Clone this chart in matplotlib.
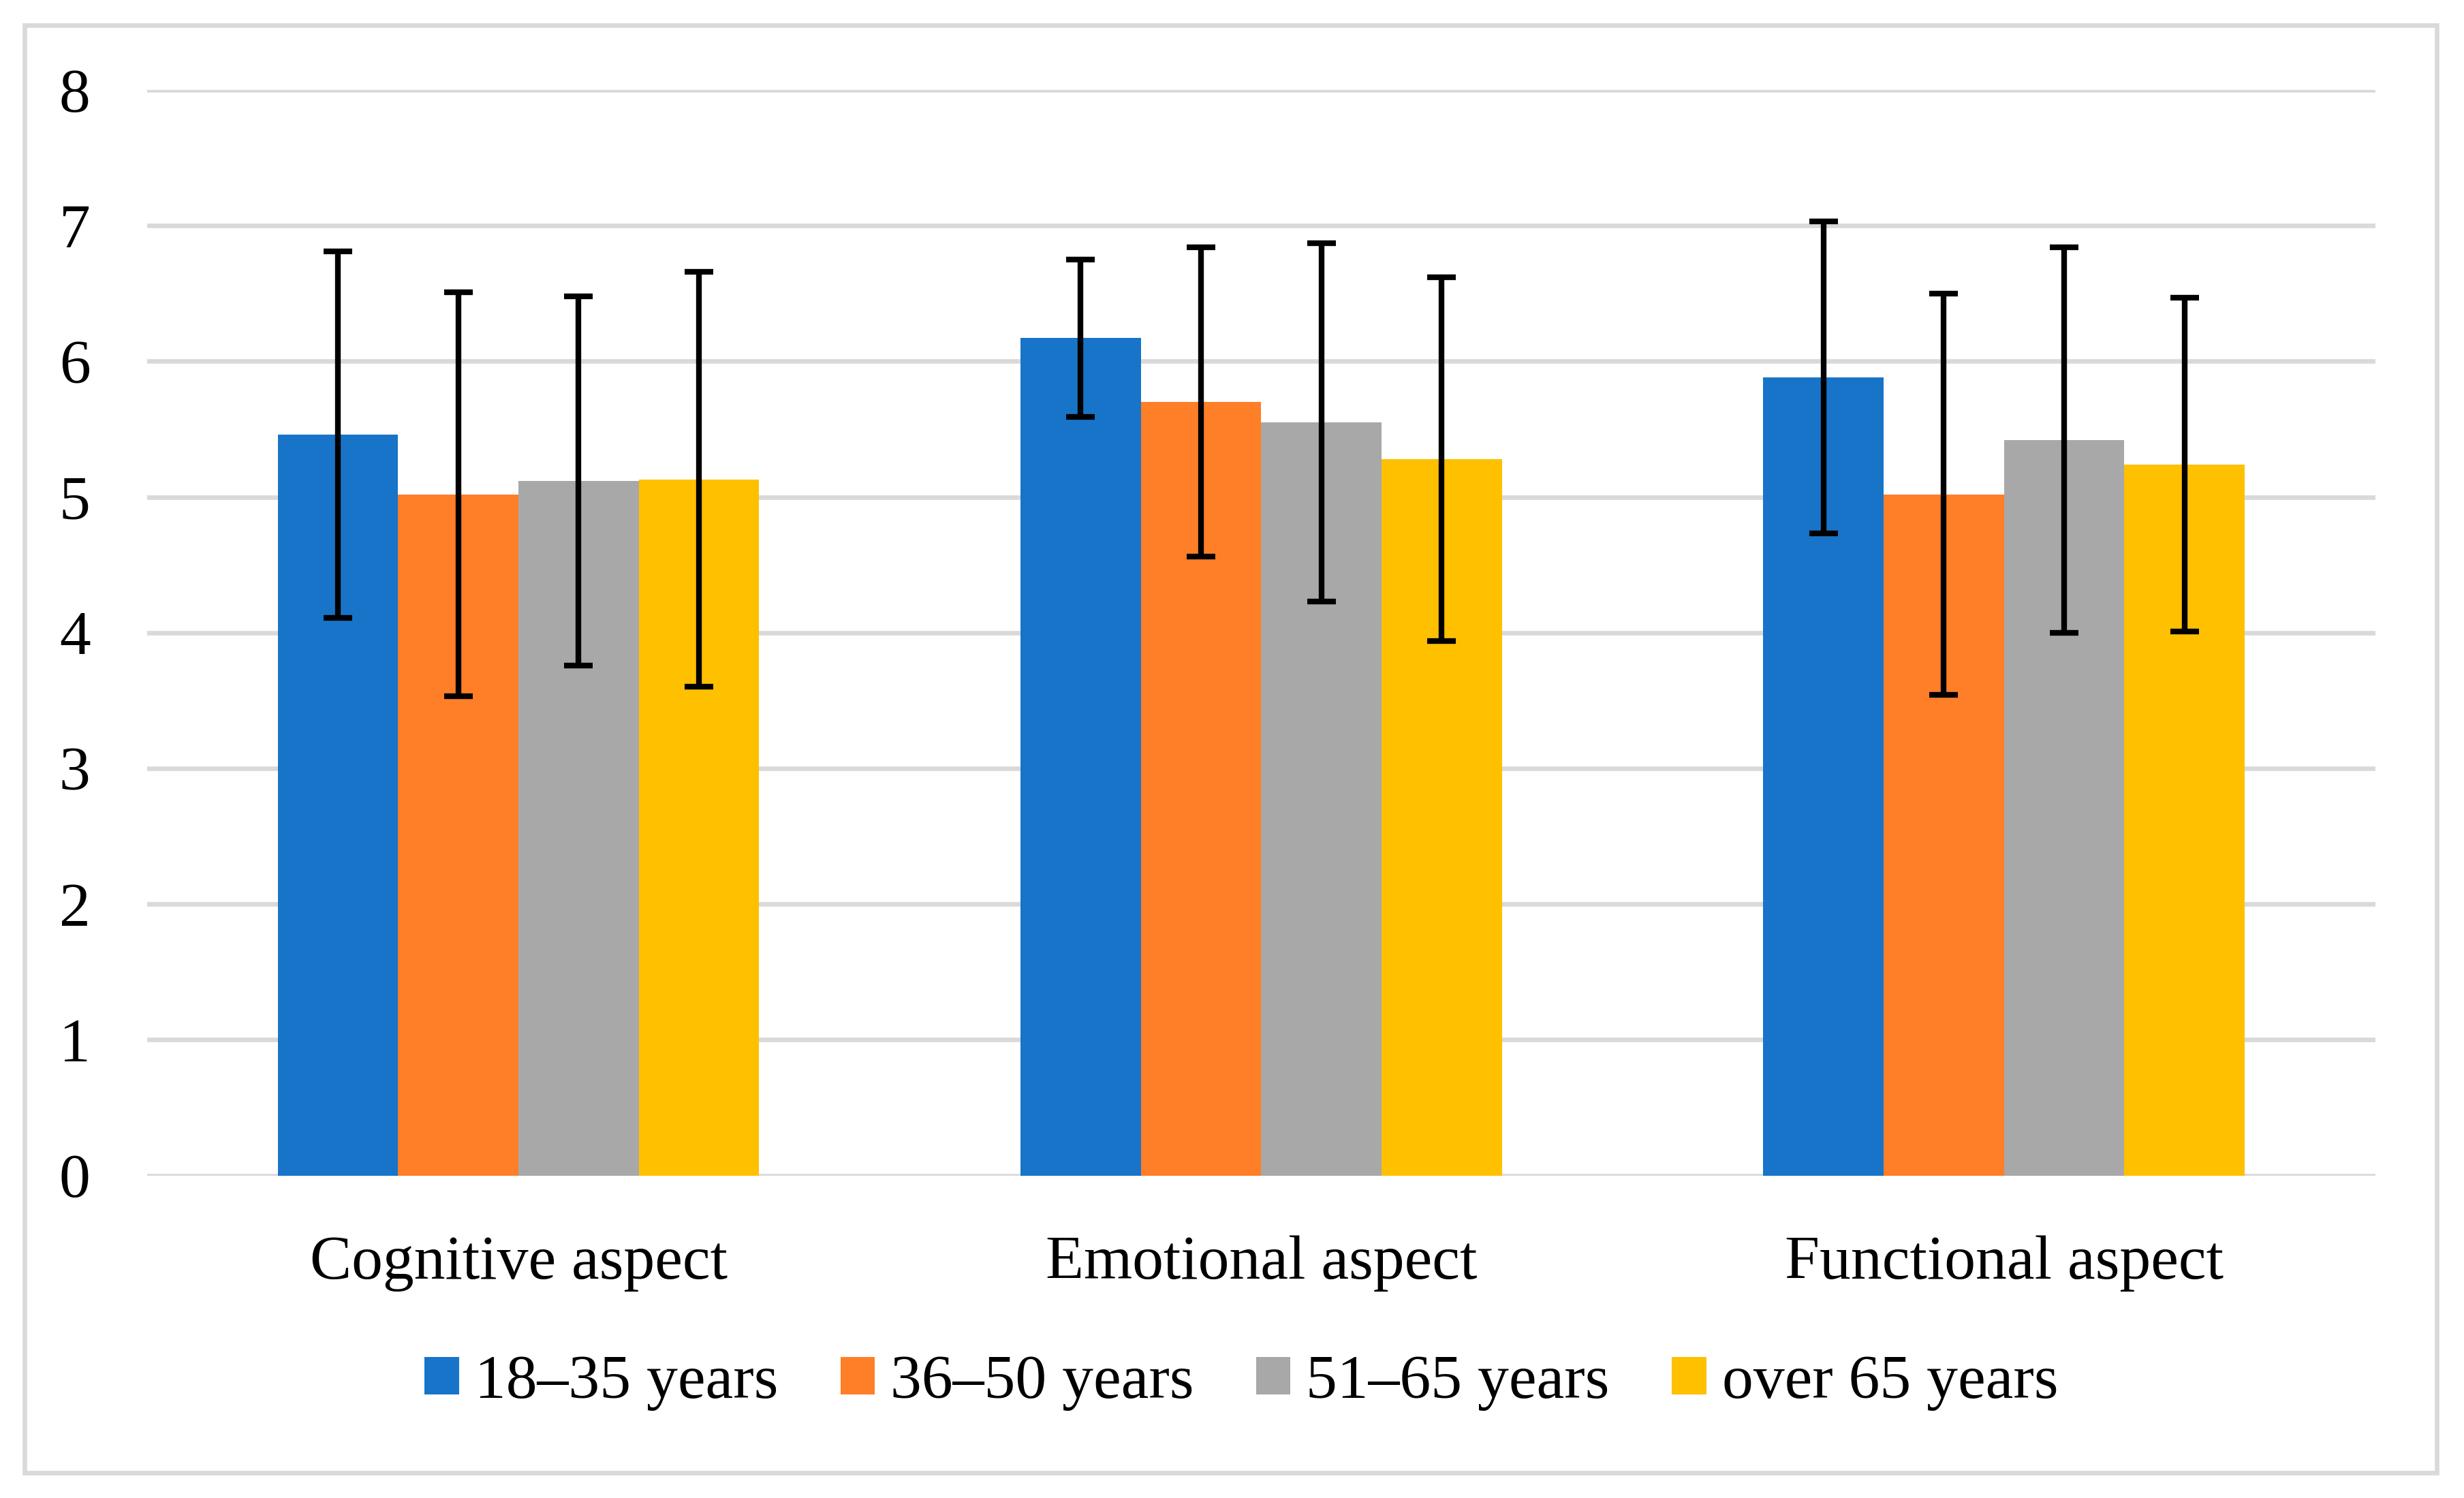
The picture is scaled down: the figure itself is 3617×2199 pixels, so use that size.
import numpy as np
import matplotlib as mpl

mpl.use('Agg')

import matplotlib.pyplot as plt
from matplotlib.patches import Rectangle

FONT_NAME = 'Liberation Serif'
FONT_SIZE = 22
GRID_COLOR = '#D9D9D9'

mpl.rcParams['font.family'] = FONT_NAME
mpl.rcParams['font.size'] = FONT_SIZE

# data
categories = ['Cognitive aspect', 'Emotional aspect', 'Functional aspect']
group_labels = ['18\u201335 years', '36\u201350 years', '51\u201365 years', 'over 65 years']
means_18_35 = [5.46, 6.17, 5.88]
means_36_50 = [5.02, 5.70, 5.02]
means_51_65 = [5.12, 5.55, 5.42]
means_over65 = [5.13, 5.28, 5.24]
sd_18_35 = [1.35, 0.58, 1.15]
sd_36_50 = [1.49, 1.14, 1.48]
sd_51_65 = [1.36, 1.32, 1.42]
sd_over65 = [1.53, 1.34, 1.23]
y_ticks = [0, 1, 2, 3, 4, 5, 6, 7, 8]

COLORS = ('#1874C8', '#FF7E28', '#A8A8A8', '#FFC000')
BAR_WIDTH = 0.162

fig = plt.figure(figsize=(3617 / 300.0, 2199 / 300.0), dpi=300)
ax = fig.add_axes([0.0597, 0.2153, 0.9043, 0.7247])

means = [means_18_35, means_36_50, means_51_65, means_over65]
sds = [sd_18_35, sd_36_50, sd_51_65, sd_over65]
x = np.arange(len(categories))

handles = []
for i in range(len(means)):
    pos = x + (i - 1.5) * BAR_WIDTH
    b = ax.bar(pos, means[i], width=BAR_WIDTH, color=COLORS[i],
               label=group_labels[i], zorder=2)
    handles.append(b)
    ax.errorbar(pos, means[i], yerr=sds[i], fmt='none', ecolor='black',
                elinewidth=2.0, capsize=5.0, capthick=2.0, zorder=3)

ax.set_xlim(-0.5, len(categories) - 0.5)
ax.set_ylim(0, 8)
ax.set_yticks(y_ticks)
ax.set_yticklabels([str(t) for t in y_ticks])
ax.set_xticks(x)
ax.set_xticklabels(categories)

ax.yaxis.grid(True, color=GRID_COLOR, linewidth=1.6, zorder=0)
ax.set_axisbelow(True)
for s in ax.spines.values():
    s.set_visible(False)
ax.tick_params(axis='both', length=0, labelsize=FONT_SIZE)
ax.tick_params(axis='y', pad=20)
ax.tick_params(axis='x', pad=21)
for t in ax.get_yticklabels():
    t.set_verticalalignment('center_baseline')

fig.legend(handles, group_labels, loc='center', bbox_to_anchor=(0.5038, 0.077),
           ncol=4, frameon=False, fontsize=FONT_SIZE, handlelength=0.55,
           handleheight=0.55, handletextpad=0.25, columnspacing=1.0,
           borderaxespad=0)

# outer chart border
fig.patches.append(Rectangle((0.00995, 0.0168), 0.979, 0.9664,
                             transform=fig.transFigure, fill=False,
                             edgecolor=GRID_COLOR, linewidth=1.6))

fig.savefig('out.png', dpi=300)
